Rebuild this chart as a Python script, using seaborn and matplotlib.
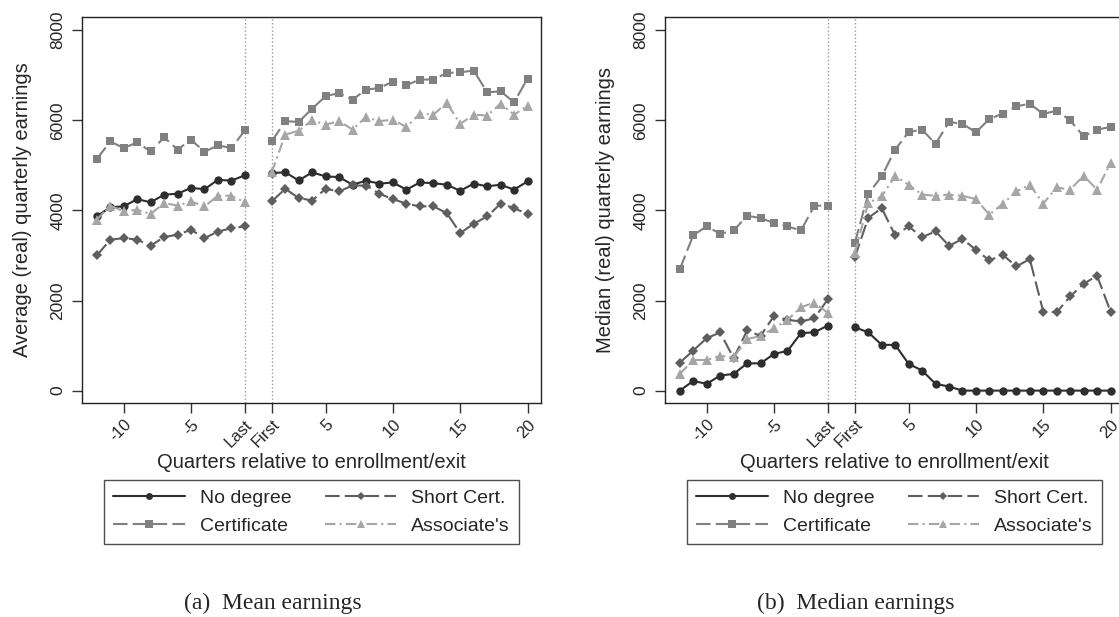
import numpy as np
import pandas as pd
import matplotlib
matplotlib.use("Agg")
import matplotlib.pyplot as plt
from matplotlib.lines import Line2D
import seaborn as sns

sns.set_style("ticks")
plt.rcParams['font.family'] = ['Liberation Sans', 'DejaVu Sans']

# ---------------- data ----------------
pre_q = list(range(-12, 0))     # -12 .. -1 (Last = -1)
post_q = list(range(1, 21))     # 1 (First) .. 20

series = ["No degree", "Short Cert.", "Certificate", "Associate's"]

mean_pre = {
    "No degree":   [3870, 4070, 4090, 4250, 4180, 4350, 4370, 4500, 4470, 4680, 4660, 4780],
    "Short Cert.": [3000, 3350, 3385, 3350, 3215, 3410, 3460, 3570, 3385, 3530, 3605, 3645],
    "Certificate": [5140, 5530, 5385, 5510, 5310, 5620, 5350, 5570, 5300, 5445, 5385, 5775],
    "Associate's": [3795, 4105, 3980, 4015, 3920, 4165, 4105, 4200, 4090, 4325, 4325, 4180],
}
mean_post = {
    "No degree":   [4830, 4845, 4665, 4845, 4755, 4740, 4570, 4660, 4595, 4620, 4460, 4620,
                    4605, 4570, 4435, 4595, 4535, 4570, 4460, 4645],
    "Short Cert.": [4200, 4480, 4275, 4220, 4480, 4420, 4555, 4550, 4370, 4250, 4150, 4090,
                    4090, 3940, 3495, 3705, 3865, 4150, 4050, 3920],
    "Certificate": [5535, 5980, 5965, 6260, 6535, 6605, 6460, 6680, 6720, 6860, 6780, 6905,
                    6905, 7050, 7065, 7105, 6620, 6645, 6400, 6925],
    "Associate's": [4850, 5680, 5770, 6000, 5905, 5980, 5795, 6075, 5980, 6015, 5850, 6150,
                    6125, 6385, 5920, 6125, 6105, 6370, 6125, 6325],
}
median_pre = {
    "No degree":   [0, 215, 150, 335, 370, 605, 605, 815, 880, 1275, 1295, 1445],
    "Short Cert.": [620, 890, 1165, 1290, 720, 1335, 1215, 1660, 1570, 1535, 1605, 2030],
    "Certificate": [2695, 3450, 3645, 3480, 3555, 3880, 3830, 3720, 3645, 3555, 4105, 4105],
    "Associate's": [370, 680, 680, 770, 740, 1140, 1215, 1385, 1570, 1850, 1955, 1720],
}
median_post = {
    "No degree":   [1405, 1295, 1015, 1015, 595, 445, 150, 90, 0, 0, 0, 0,
                    0, 0, 0, 0, 0, 0, 0, 0],
    "Short Cert.": [2955, 3835, 4050, 3445, 3645, 3405, 3535, 3215, 3365, 3125, 2890, 3015,
                    2755, 2920, 1755, 1740, 2090, 2370, 2550, 1755],
    "Certificate": [3275, 4370, 4755, 5350, 5740, 5795, 5475, 5965, 5920, 5735, 6030, 6150,
                    6310, 6370, 6140, 6215, 6000, 5645, 5795, 5850],
    "Associate's": [3050, 4165, 4310, 4770, 4570, 4350, 4325, 4350, 4325, 4250, 3905, 4150,
                    4420, 4570, 4150, 4510, 4460, 4770, 4460, 5050],
}

tick_pos = [-10, -5, -1, 1, 5, 10, 15, 20]
tick_lab = ["-10", "-5", "Last", "First", "5", "10", "15", "20"]
y_ticks = [0, 2000, 4000, 6000, 8000]

ylabels = ["Average (real) quarterly earnings", "Median (real) quarterly earnings"]
xlabel = "Quarters relative to enrollment/exit"
captions = ["(a)  Mean earnings", "(b)  Median earnings"]

# ---------------- styles ----------------
colors = {"No degree": "#2e2e2e", "Short Cert.": "#5e5e5e",
          "Certificate": "#808080", "Associate's": "#a6a6a6"}
markers = {"No degree": "o", "Short Cert.": "D", "Certificate": "s", "Associate's": "^"}
msizes = {"No degree": 6.0, "Short Cert.": 5.5, "Certificate": 6.3, "Associate's": 7.2}
dashes = {"No degree": "", "Short Cert.": (7, 2.5), "Certificate": (7, 2.5),
          "Associate's": (5, 2, 1, 2)}


def build_df(pre, post):
    rows = []
    for s in series:
        for q, v in zip(pre_q, pre[s]):
            rows.append((s, "pre", q, v))
        for q, v in zip(post_q, post[s]):
            rows.append((s, "post", q, v))
    return pd.DataFrame(rows, columns=["series", "seg", "q", "v"])


fig = plt.figure(figsize=(11.19, 6.17), dpi=100)
W, H = 1119, 617
ax_w = 459 / W
ax_b = 1 - 403 / H
ax_h = (403 - 16.7) / H
axes = [fig.add_axes([82 / W, ax_b, ax_w, ax_h]),
        fig.add_axes([665 / W, ax_b, ax_w, ax_h])]

datasets = [(mean_pre, mean_post), (median_pre, median_post)]

for i, (ax, (pre, post)) in enumerate(zip(axes, datasets)):
    df = build_df(pre, post)
    ax.axvline(-1, color="#9a9a9a", ls=":", lw=1, zorder=0)
    ax.axvline(1, color="#9a9a9a", ls=":", lw=1, zorder=0)
    for s in series:
        sub = df[df.series == s]
        sns.lineplot(data=sub, x="q", y="v", units="seg", estimator=None,
                     color=colors[s], marker=markers[s], markersize=msizes[s],
                     markeredgewidth=0, dashes=False, lw=1.5, ax=ax, legend=False,
                     sort=True)
    for line, s in zip(ax.get_lines()[2:], [s for s in series for _ in range(2)]):
        if dashes[s]:
            line.set_dashes(dashes[s])
    ax.set_xlim(-13.1, 21.0)
    ax.set_ylim(-275, 8300)
    ax.set_xticks(tick_pos)
    ax.set_xticklabels(tick_lab, rotation=45, ha="right", rotation_mode="anchor")
    ax.set_yticks(y_ticks)
    ax.set_yticklabels([str(t) for t in y_ticks], rotation=90, va="center")
    ax.tick_params(axis="both", length=7, width=1, color="#333333", direction="out")
    ax.tick_params(axis="x", pad=3, labelsize=12)
    ax.tick_params(axis="y", pad=5, labelsize=12.5)
    ax.set_xlabel(xlabel, fontsize=14.5, labelpad=2)
    ax.set_ylabel(ylabels[i], fontsize=14.5)
    ax.yaxis.set_label_coords(-0.108, 0.5)
    for sp in ax.spines.values():
        sp.set_visible(True)
        sp.set_color("#222222")
        sp.set_linewidth(1)

    handles = {}
    for s in series:
        handles[s] = Line2D([], [], color=colors[s], marker=markers[s],
                            markersize=msizes[s] - 1, markeredgewidth=0, lw=1.5,
                            dashes=dashes[s] if dashes[s] else (None, None))
    order = ["No degree", "Certificate", "Short Cert.", "Associate's"]
    leg = ax.legend([handles[s] for s in order], order, ncol=2, loc="upper center",
                    bbox_to_anchor=(0.5, -0.199), borderaxespad=0, frameon=True,
                    fancybox=False, edgecolor="#222222", fontsize=14,
                    handlelength=3.7, handletextpad=0.75, columnspacing=1.7,
                    borderpad=0.5, labelspacing=0.5)
    leg.get_frame().set_linewidth(1)

    fig.text((ax.get_position().x0 + ax.get_position().x1) / 2 - 0.035, 1 - 603 / H,
             captions[i], ha="center", va="center", fontsize=17,
             family=["Liberation Serif", "DejaVu Serif"])

fig.savefig("out.png", dpi=100)
